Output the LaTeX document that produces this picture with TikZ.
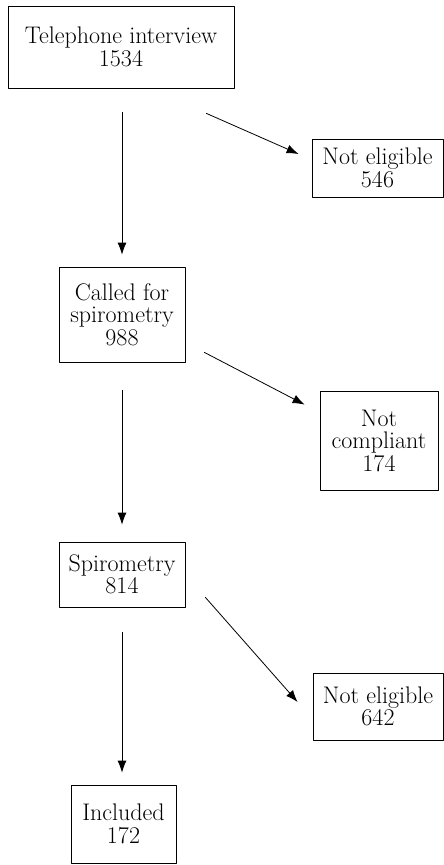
\documentclass[tikz,border=0pt]{standalone}
\usepackage{tikz}
\usetikzlibrary{arrows.meta}
\tikzset{
  box/.style={draw=black, line width=0.8pt, align=center, inner sep=0pt,
    font=\fontsize{24}{22.5}\selectfont},
  arr/.style={draw=black, line width=0.8pt, -{Latex[length=12pt,width=9pt]}}
}
\begin{document}
\begin{tikzpicture}[x=1pt, y=-1pt, line cap=round, line join=round]
  \useasboundingbox (0,0) rectangle (444,865);
  % boxes
  \node[box, minimum width=226pt, minimum height=82pt] (tel) at (121,47) {Telephone interview\\1534};
  \node[box, minimum width=131pt, minimum height=58pt] (ne1) at (377.5,168) {Not eligible\\546};
  \node[box, minimum width=126pt, minimum height=95pt] (called) at (122,314.5) {Called for\\spirometry\\988};
  \node[box, minimum width=118pt, minimum height=99pt] (nc) at (379,440.5) {Not\\compliant\\174};
  \node[box, minimum width=126pt, minimum height=65pt] (spiro) at (122,574.5) {Spirometry\\814};
  \node[box, minimum width=130pt, minimum height=67pt] (ne2) at (378,706.5) {Not eligible\\642};
  \node[box, minimum width=105pt, minimum height=78pt] (inc) at (123.5,824) {Included\\172};
  % main flow
  \draw[arr, shorten <=24pt, shorten >=12pt] (tel.south -| called.north) -- (called.north);
  \draw[arr, shorten <=28pt, shorten >=17pt] (called.south) -- (spiro.north);
  \draw[arr, shorten <=25pt, shorten >=12pt] (spiro.south) -- (spiro.south |- inc.north);
  % exclusions
  \draw[arr] ([xshift=-28pt,yshift=-25pt]tel.south east) -- ([xshift=-13pt,yshift=14pt]ne1.west);
  \draw[arr] ([xshift=19pt,yshift=10pt]called.south east) -- ([xshift=-15pt,yshift=-14pt]nc.north west);
  \draw[arr] ([xshift=20pt,yshift=10pt]spiro.south east) -- ([xshift=-15pt,yshift=4.5pt]ne2.west);
\end{tikzpicture}
\end{document}
